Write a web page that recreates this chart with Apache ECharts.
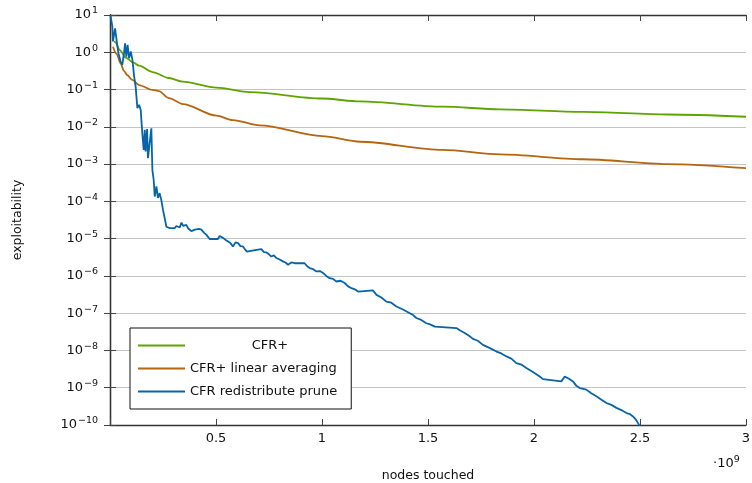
<!DOCTYPE html>
<html>
<head>
<meta charset="utf-8">
<script src="https://cdn.jsdelivr.net/npm/echarts@6/dist/echarts.min.js"></script>
<style>
html,body{margin:0;padding:0;background:#fff;}
#chart{width:752px;height:483px;}
</style>
</head>
<body>
<div id="chart"></div>
<script>
// x values in units of 1e9 nodes touched; y values stored as log10(exploitability)
const seriesNames = ['CFR+', 'CFR+ linear averaging', 'CFR redistribute prune'];
const xTicks = [0.5, 1, 1.5, 2, 2.5, 3];

const cfrPlus = [
  [0.020, 0.30], [0.027, 0.26], [0.046, 0.06], [0.074, -0.14], [0.108, -0.27],
  [0.137, -0.36], [0.200, -0.53], [0.278, -0.69], [0.343, -0.79], [0.502, -0.95],
  [0.660, -1.07], [1.000, -1.24], [1.180, -1.32], [1.570, -1.46], [1.840, -1.53],
  [2.230, -1.60], [2.630, -1.67], [3.000, -1.73]
];

const cfrPlusLinear = [
  [0.014, 0.15], [0.032, -0.05], [0.050, -0.30], [0.066, -0.50], [0.081, -0.61],
  [0.105, -0.74], [0.137, -0.88], [0.200, -1.01], [0.231, -1.04], [0.278, -1.23],
  [0.344, -1.39], [0.502, -1.70], [0.579, -1.82], [0.706, -1.96], [1.000, -2.25],
  [1.180, -2.40], [1.570, -2.62], [1.840, -2.74], [2.230, -2.87], [2.630, -3.00],
  [3.000, -3.11]
];

const cfrRedistributePrune = [
  [0.002,1.00],[0.011,0.69],[0.014,0.29],[0.024,0.64],[0.032,0.60],[0.035,0.15],[0.040,-0.03],
  [0.050,-0.25],[0.058,-0.34],[0.066,-0.03],[0.071,0.24],[0.077,-0.12],[0.083,0.20],[0.090,-0.16],
  [0.098,0.02],[0.106,-0.21],[0.113,-0.61],[0.121,-0.92],[0.129,-1.50],[0.137,-1.41],[0.145,-1.55],
  [0.148,-1.82],[0.153,-2.22],[0.159,-2.62],[0.164,-2.08],[0.168,-2.66],[0.175,-2.06],[0.179,-2.84],
  [0.187,-2.89],[0.195,-2.04],[0.198,-2.08],[0.200,-3.16],[0.206,-3.42],[0.211,-3.87],[0.219,-3.60],
  [0.226,-3.91],[0.234,-3.78],[0.242,-3.96],[0.250,-4.23],[0.258,-4.45],[0.266,-4.68],[0.282,-4.72],
  [0.305,-4.72],[0.313,-4.66],[0.321,-4.63],[0.329,-4.70],[0.337,-4.57],[0.345,-4.66],[0.352,-4.68],
  [0.360,-4.63],[0.368,-4.72],[0.376,-4.68],[0.384,-4.80],[0.392,-4.85],[0.400,-4.76],[0.408,-4.81],
  [0.420,-4.74],[0.431,-4.76],[0.443,-4.84],[0.455,-4.90],[0.470,-5.01],[0.509,-5.01],[0.517,-4.93],
  [0.525,-4.90],[0.533,-4.98],[0.541,-4.94],[0.549,-5.05],[0.557,-5.08],[0.568,-5.12],[0.580,-5.21],
  [0.592,-5.10],[0.604,-5.12],[0.615,-5.20],[0.627,-5.21],[0.636,-5.28],[0.646,-5.35],[0.691,-5.30],
  [0.714,-5.28],[0.726,-5.36],[0.738,-5.37],[0.750,-5.42],[0.761,-5.48],[0.773,-5.45],[0.785,-5.52],
  [0.800,-5.56],[0.816,-5.61],[0.828,-5.64],[0.840,-5.70],[0.855,-5.64],[0.871,-5.66],[0.918,-5.66],
  [0.930,-5.74],[0.942,-5.79],[0.958,-5.82],[0.974,-5.88],[0.990,-5.87],[1.005,-5.92],[1.020,-6.00],
  [1.036,-6.06],[1.052,-6.08],[1.068,-6.15],[1.088,-6.13],[1.107,-6.19],[1.123,-6.28],[1.139,-6.33],
  [1.155,-6.36],[1.170,-6.42],[1.241,-6.39],[1.257,-6.51],[1.280,-6.58],[1.304,-6.69],[1.327,-6.72],
  [1.351,-6.82],[1.382,-6.90],[1.414,-7.00],[1.430,-7.05],[1.445,-7.13],[1.468,-7.18],[1.492,-7.27],
  [1.510,-7.30],[1.532,-7.36],[1.634,-7.40],[1.650,-7.46],[1.673,-7.53],[1.692,-7.60],[1.712,-7.69],
  [1.735,-7.74],[1.759,-7.85],[1.790,-7.93],[1.823,-8.03],[1.846,-8.08],[1.870,-8.16],[1.893,-8.22],
  [1.917,-8.34],[1.940,-8.38],[1.964,-8.47],[1.995,-8.58],[2.027,-8.70],[2.042,-8.77],[2.129,-8.83],
  [2.145,-8.70],[2.165,-8.76],[2.184,-8.83],[2.200,-8.95],[2.216,-9.01],[2.247,-9.05],[2.270,-9.15],
  [2.294,-9.23],[2.318,-9.32],[2.342,-9.41],[2.365,-9.46],[2.389,-9.54],[2.412,-9.60],[2.436,-9.68],
  [2.450,-9.70],[2.467,-9.77],[2.480,-9.85],[2.491,-9.95],[2.500,-10.05]
];

const colors = ['#5ea400', '#b5650e', '#0764a8'];
const FONT = 'DejaVu Sans';

function toPoints(arr) { return arr.map(p => [p[0], Math.pow(10, p[1])]); }

const chart = echarts.init(document.getElementById('chart'), null, {renderer: 'canvas'});

const axisLineStyle = {color: '#333', width: 1.3};
const yLabelRich = {
  b: {fontFamily: FONT, fontSize: 13, color: '#111'},
  s: {fontFamily: FONT, fontSize: 9.5, color: '#111', verticalAlign: 'bottom', padding: [0, 0, 8, 1]}
};

chart.setOption({
  animation: false,
  backgroundColor: '#fff',
  color: colors,
  grid: {left: 110, right: 6, top: 15, bottom: 58, containLabel: false, outerBoundsMode: 'none'},
  xAxis: [{
    type: 'value', min: 0, max: 3, interval: 0.5, position: 'bottom',
    axisLine: {show: true, lineStyle: axisLineStyle},
    axisTick: {show: true, inside: true, length: 6, lineStyle: {color: '#444'}},
    axisLabel: {
      fontFamily: FONT, fontSize: 13, color: '#111', margin: 7,
      formatter: v => xTicks.indexOf(v) >= 0 ? String(v) : ''
    },
    splitLine: {show: false}
  }, {
    type: 'value', min: 0, max: 3, interval: 0.5, position: 'top',
    axisLine: {show: true, lineStyle: axisLineStyle},
    axisTick: {show: true, inside: true, length: 6, lineStyle: {color: '#444'}},
    axisLabel: {show: false}, splitLine: {show: false}
  }],
  yAxis: [{
    type: 'log', logBase: 10, min: 1e-10, max: 10, interval: 1, position: 'left',
    name: 'exploitability', nameLocation: 'middle', nameGap: 86,
    nameTextStyle: {fontFamily: FONT, fontSize: 12.5, color: '#111'},
    axisLine: {show: true, lineStyle: axisLineStyle},
    axisTick: {show: true, inside: true, length: 6, lineStyle: {color: '#444'}},
    axisLabel: {
      margin: 12,
      formatter: v => {
        const e = Math.round(Math.log10(v));
        return '{b|10}{s|' + (e < 0 ? '\u2212' + (-e) : e) + '}';
      },
      rich: yLabelRich
    },
    splitLine: {show: true, lineStyle: {color: '#c4c4c4', width: 1}}
  }, {
    type: 'log', logBase: 10, min: 1e-10, max: 10, interval: 1, position: 'right',
    axisLine: {show: true, lineStyle: axisLineStyle},
    axisTick: {show: true, inside: true, length: 6, lineStyle: {color: '#444'}},
    axisLabel: {show: false}, splitLine: {show: false}
  }],
  legend: {
    orient: 'vertical', left: 130, top: 328,
    padding: [11, 14, 11, 8], itemGap: 10, itemWidth: 47, itemHeight: 14,
    backgroundColor: '#fff', borderColor: '#111', borderWidth: 1, borderRadius: 0,
    data: seriesNames.map(n => ({name: n, icon: 'path://M0,6 L47,6 L47,8 L0,8 Z'})),
    textStyle: {
      fontFamily: FONT, fontSize: 13, color: '#111',
      rich: {c: {fontFamily: FONT, fontSize: 13, color: '#111', width: 160, align: 'center'},
             l: {fontFamily: FONT, fontSize: 13, color: '#111', width: 160, align: 'left'}}
    },
    formatter: n => n === 'CFR+' ? '{c|' + n + '}' : '{l|' + n + '}'
  },
  graphic: [{
    type: 'text', left: 713, top: 455,
    style: {
      text: '\u00b710{s|9}', fontFamily: FONT, fontSize: 13, fill: '#111',
      rich: {s: {fontFamily: FONT, fontSize: 9.5, fill: '#111', verticalAlign: 'bottom', padding: [0, 0, 8, 0]}}
    }
  }, {
    type: 'text', x: 428, y: 476,
    style: {
      text: 'nodes touched', fontFamily: FONT, fontSize: 12.5, fill: '#111',
      align: 'center', verticalAlign: 'middle'
    }
  }],
  series: [
    {name: seriesNames[0], type: 'line', data: toPoints(cfrPlus), showSymbol: false, symbol: 'none',
     smooth: 0.3, smoothMonotone: 'x', lineStyle: {width: 1.8, color: colors[0]}, clip: true, z: 2},
    {name: seriesNames[1], type: 'line', data: toPoints(cfrPlusLinear), showSymbol: false, symbol: 'none',
     smooth: 0.3, smoothMonotone: 'x', lineStyle: {width: 1.8, color: colors[1]}, clip: true, z: 3},
    {name: seriesNames[2], type: 'line', data: toPoints(cfrRedistributePrune), showSymbol: false, symbol: 'none',
     lineStyle: {width: 1.8, color: colors[2]}, clip: true, z: 4}
  ]
});
</script>
</body>
</html>
